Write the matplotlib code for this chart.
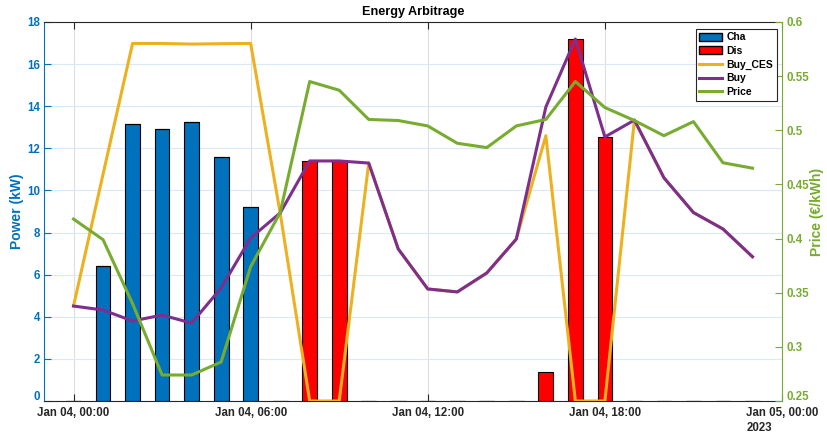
import pandas as pd
import matplotlib
matplotlib.use("Agg")
import matplotlib.pyplot as plt
import matplotlib.dates as mdates
import matplotlib.transforms as mtransforms
from matplotlib.ticker import FormatStrFormatter
from matplotlib.patches import Patch
from matplotlib.lines import Line2D

plt.rcParams['font.family'] = ['Liberation Sans', 'DejaVu Sans']
plt.rcParams['font.weight'] = 'bold'
plt.rcParams['axes.titleweight'] = 'bold'
plt.rcParams['axes.labelweight'] = 'bold'

# datos horarios
hours = pd.date_range("2023-01-04 00:00", periods=24, freq="h")

cha = [0, 6.42, 13.15, 12.9, 13.23, 11.6, 9.23, 0, 0, 0, 0, 0,
       0, 0, 0, 0, 0, 0, 0, 0, 0, 0, 0, 0]
dis = [0, 0, 0, 0, 0, 0, 0, 0, 11.38, 11.38, 0, 0,
       0, 0, 0, 0, 1.36, 17.17, 12.55, 0, 0, 0, 0, 0]
buy = [4.51, 4.32, 3.80, 4.08, 3.70, 5.37, 7.74, 8.93, 11.40, 11.40, 11.30, 7.22,
       5.32, 5.18, 6.08, 7.69, 13.96, 17.19, 12.54, 13.34, 10.60, 8.95, 8.17, 6.85]
buy_ces = [4.51, 10.77, 16.98, 16.98, 16.95, 16.97, 16.98, 8.93, 0, 0, 11.30, 7.22,
           5.32, 5.18, 6.08, 7.69, 12.60, 0, 0, 13.34, 10.60, 8.95, 8.17, 6.85]
price = [0.418, 0.399, 0.340, 0.274, 0.274, 0.286, 0.374, 0.424, 0.545, 0.537, 0.510, 0.509,
         0.504, 0.488, 0.484, 0.504, 0.510, 0.545, 0.521, 0.509, 0.495, 0.508, 0.470, 0.465]

xticks = pd.date_range("2023-01-04 00:00", "2023-01-05 00:00", freq="6h")

BLUE = "#0072BD"
GREEN = "#77AC30"
DARK = "#262626"

fig = plt.figure(figsize=(8.27, 4.37), dpi=100)
ax = fig.add_axes([0.0532, 0.0824, 0.8924, 0.8673])
ax2 = ax.twinx()

# barras
w = 0.5 / 24
ax.bar(hours, cha, width=w, color=BLUE, edgecolor="black", linewidth=0.8, zorder=2)
ax.bar(hours, dis, width=w, bottom=cha, color="red", edgecolor="black", linewidth=0.8, zorder=2)

# lineas
ax.plot(hours, buy_ces, color="#EDB120", lw=2.2, zorder=3)
ax.plot(hours, buy, color="#7E2F8E", lw=2.2, zorder=3)
ax2.plot(hours, price, color=GREEN, lw=2.2)

# ejes
ax.set_xlim(hours[0] - pd.Timedelta(hours=1), xticks[-1])
ax.set_ylim(0, 18)
ax.set_yticks(range(0, 19, 2))
ax2.set_ylim(0.25, 0.6)
ax2.set_yticks([0.25, 0.3, 0.35, 0.4, 0.45, 0.5, 0.55, 0.6])
ax2.yaxis.set_major_formatter(FormatStrFormatter("%g"))

ax.set_xticks(xticks)
ax.xaxis.set_major_formatter(mdates.DateFormatter("%b %d, %H:%M"))

ax.tick_params(axis="x", direction="in", length=5, top=True, colors=DARK,
               labelsize=8.3, pad=4)
ax.tick_params(axis="y", direction="in", length=5, colors=BLUE, labelsize=8.3, pad=3)
ax2.tick_params(axis="y", direction="in", length=5, colors=GREEN, labelsize=8.3, pad=3)
for lbl in ax.get_xticklabels() + ax.get_yticklabels() + ax2.get_yticklabels():
    lbl.set_fontweight("bold")

# subir un poco las etiquetas del cero (como en la original)
shift = mtransforms.ScaledTranslation(0, 4 / 72, fig.dpi_scale_trans)
for lbl in [ax.get_yticklabels()[0], ax2.get_yticklabels()[0]]:
    lbl.set_transform(lbl.get_transform() + shift)

for s in ["top", "bottom"]:
    ax.spines[s].set_color(DARK)
    ax2.spines[s].set_visible(False)
ax.spines["left"].set_color(BLUE)
ax.spines["right"].set_visible(False)
ax2.spines["left"].set_visible(False)
ax2.spines["right"].set_color(GREEN)

# rejilla
ax.set_axisbelow(True)
ax.yaxis.grid(True, color="#d9eaf5", lw=0.8)
ax.xaxis.grid(True, color="#dedede", lw=0.8)

ax.set_ylabel("Power (kW)", color=BLUE, fontsize=10, fontweight="bold", labelpad=2)
ax2.set_ylabel("Price (€/kWh)", color=GREEN, fontsize=10, fontweight="bold", labelpad=1)
ax.set_title("Energy Arbitrage", fontsize=9.1, fontweight="bold", color="black", pad=5)

ax.text(0.9526, -0.071, "2023", transform=ax.transAxes, ha="left", va="center",
        fontsize=8.3, fontweight="bold", color=DARK)

handles = [
    Patch(facecolor=BLUE, edgecolor="black", label="Cha"),
    Patch(facecolor="red", edgecolor="black", label="Dis"),
    Line2D([], [], color="#EDB120", lw=2.2, label="Buy_CES"),
    Line2D([], [], color="#7E2F8E", lw=2.2, label="Buy"),
    Line2D([], [], color=GREEN, lw=2.2, label="Price"),
]
leg = ax2.legend(handles=handles, loc="upper right", bbox_to_anchor=(0.993, 0.982),
                 borderaxespad=0, fancybox=False, framealpha=1, edgecolor=DARK,
                 handlelength=2.2, handleheight=0.8, labelspacing=0.35,
                 handletextpad=0.4, borderpad=0.35,
                 prop={"weight": "bold", "size": 7.5})
leg.get_frame().set_linewidth(0.8)

fig.savefig("out.png", dpi=100)
plt.close(fig)
